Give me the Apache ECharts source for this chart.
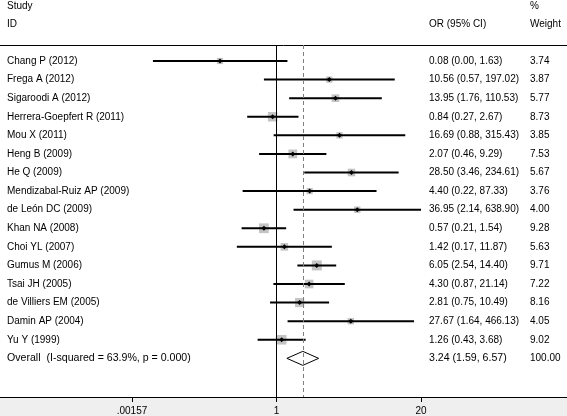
<!DOCTYPE html>
<html>
<head>
<meta charset="utf-8">
<script src="https://cdn.jsdelivr.net/npm/echarts@6/dist/echarts.min.js"></script>
<style>
html,body{margin:0;padding:0;background:#fff;}
#chart{width:567px;height:416px;}
</style>
</head>
<body>
<div id="chart"></div>
<script>
var studies = ["Chang P (2012)","Frega A (2012)","Sigaroodi A (2012)","Herrera-Goepfert R (2011)","Mou X (2011)","Heng B (2009)","He Q (2009)","Mendizabal-Ruiz AP (2009)","de León DC (2009)","Khan NA (2008)","Choi YL (2007)","Gumus M (2006)","Tsai JH (2005)","de Villiers EM (2005)","Damin AP (2004)","Yu Y (1999)"];
var oddsRatios = [0.08,10.56,13.95,0.84,16.69,2.07,28.50,4.40,36.95,0.57,1.42,6.05,4.30,2.81,27.67,1.26];
var lowerCI = [0.004,0.57,1.76,0.27,0.88,0.46,3.46,0.22,2.14,0.21,0.17,2.54,0.87,0.75,1.64,0.43];
var upperCI = [1.63,197.02,110.53,2.67,315.43,9.29,234.61,87.33,638.90,1.54,11.87,14.40,21.14,10.49,466.13,3.68];
var weights = [3.74,3.87,5.77,8.73,3.85,7.53,5.67,3.76,4.00,9.28,5.63,9.71,7.22,8.16,4.05,9.02];
var overallLabel = "Overall  (I-squared = 63.9%, p = 0.000)";
var overallOR = 3.24, overallLower = 1.59, overallUpper = 6.57, overallWeight = 100.00;
var tickValues = [0.00157, 1, 637];
var tickLabels = [".00157", "1", "20"];

var FONT = "'Liberation Sans', Arial, sans-serif";
var L = Math.log(tickValues[2]);
var nRows = studies.length + 1;

var data = [];
for (var i = 0; i < studies.length; i++) {
  data.push([Math.log(oddsRatios[i]), i, Math.log(lowerCI[i]), Math.log(upperCI[i]), weights[i], 0]);
}
data.push([Math.log(overallOR), studies.length, Math.log(overallLower), Math.log(overallUpper), overallWeight, 1]);

function fmt(v){ return v.toFixed(2); }

function txt(x, y, s, size) {
  return {type:'text', style:{x:x, y:y, text:s, fill:'#000', font:(size || 10) + 'px ' + FONT, textAlign:'left', textVerticalAlign:'middle'}};
}

function renderItem(params, api) {
  var idx = params.dataIndex;
  var lnOR = api.value(0), row = api.value(1), lo = api.value(2), hi = api.value(3), w = api.value(4), isOverall = api.value(5);
  var c = api.coord([lnOR, row]);
  var pLo = api.coord([lo, row]);
  var pHi = api.coord([hi, row]);
  var children = [];
  var name, orText, wText, size = 10;
  if (isOverall) {
    name = overallLabel;
    size = 10.6;
    orText = fmt(overallOR) + ' (' + fmt(overallLower) + ', ' + fmt(overallUpper) + ')';
    wText = fmt(overallWeight);
    children.push({type:'polygon', shape:{points:[[pLo[0], c[1]], [c[0], c[1]-7], [pHi[0], c[1]], [c[0], c[1]+7]]},
      style:{fill:'none', stroke:'#000', lineWidth:1}});
  } else {
    name = studies[idx];
    orText = fmt(oddsRatios[idx]) + ' (' + fmt(lowerCI[idx]) + ', ' + fmt(upperCI[idx]) + ')';
    wText = fmt(weights[idx]);
    var s = 3.2 * Math.sqrt(w);
    children.push({type:'rect', shape:{x:c[0]-s/2, y:c[1]-s/2, width:s, height:s}, style:{fill:'#c4c4c4'}});
    children.push({type:'line', shape:{x1:pLo[0], y1:c[1], x2:pHi[0], y2:c[1]}, style:{stroke:'#000', lineWidth:2}});
    children.push({type:'polygon', shape:{points:[[c[0]-2.5,c[1]],[c[0],c[1]-2.5],[c[0]+2.5,c[1]],[c[0],c[1]+2.5]]}, style:{fill:'#000'}});
  }
  children.push(txt(7, c[1], name, size));
  children.push(txt(429, c[1], orText, size));
  children.push(txt(530, c[1], wText, 10));
  return {type:'group', children:children};
}

var chart = echarts.init(document.getElementById('chart'), null, {renderer:'canvas'});
chart.setOption({
  animation:false,
  backgroundColor:'#fff',
  grid:{left:132, right:146, top:45, bottom:19},
  xAxis:{
    type:'value', min:-L, max:L, interval:L, z:20,
    splitLine:{show:false},
    axisLine:{show:true, onZero:false, lineStyle:{color:'#000', width:1}},
    axisTick:{show:true, inside:false, length:5, lineStyle:{color:'#000'}},
    axisLabel:{margin:9, color:'#000', fontSize:10, fontFamily:FONT,
      formatter:function(v){
        var best=0, bd=1e9;
        for (var k=0;k<tickValues.length;k++){ var d=Math.abs(Math.log(tickValues[k])-v); if(d<bd){bd=d;best=k;} }
        return tickLabels[best];
      }}
  },
  yAxis:{type:'value', inverse:true, min:-0.861, max:nRows + 1.08, show:false},
  graphic:[
    {type:'rect', z:-10, zlevel:0, silent:true, shape:{x:0, y:398, width:567, height:18}, style:{fill:'#efefef'}},
    {type:'line', shape:{x1:0, y1:397.5, x2:567, y2:397.5}, style:{stroke:'#000', lineWidth:1}},
    {type:'line', shape:{x1:0, y1:45.5, x2:567, y2:45.5}, style:{stroke:'#000', lineWidth:1}},
    {type:'text', style:{x:7, y:6, text:'Study', fill:'#000', font:'10px ' + FONT, textVerticalAlign:'middle'}},
    {type:'text', style:{x:7, y:24, text:'ID', fill:'#000', font:'10px ' + FONT, textVerticalAlign:'middle'}},
    {type:'text', style:{x:429, y:24, text:'OR (95% CI)', fill:'#000', font:'10px ' + FONT, textVerticalAlign:'middle'}},
    {type:'text', style:{x:530, y:6, text:'%', fill:'#000', font:'10px ' + FONT, textVerticalAlign:'middle'}},
    {type:'text', style:{x:530, y:24, text:'Weight', fill:'#000', font:'10px ' + FONT, textVerticalAlign:'middle'}}
  ],
  series:[{
    type:'custom',
    renderItem:renderItem,
    data:data,
    clip:false,
    markLine:{
      silent:true, symbol:'none', label:{show:false},
      data:[
        {xAxis:0, lineStyle:{color:'#000', type:'solid', width:1}},
        {xAxis:Math.log(overallOR), lineStyle:{color:'#808080', type:[4,3], width:1}}
      ]
    }
  }]
});
</script>
</body>
</html>
